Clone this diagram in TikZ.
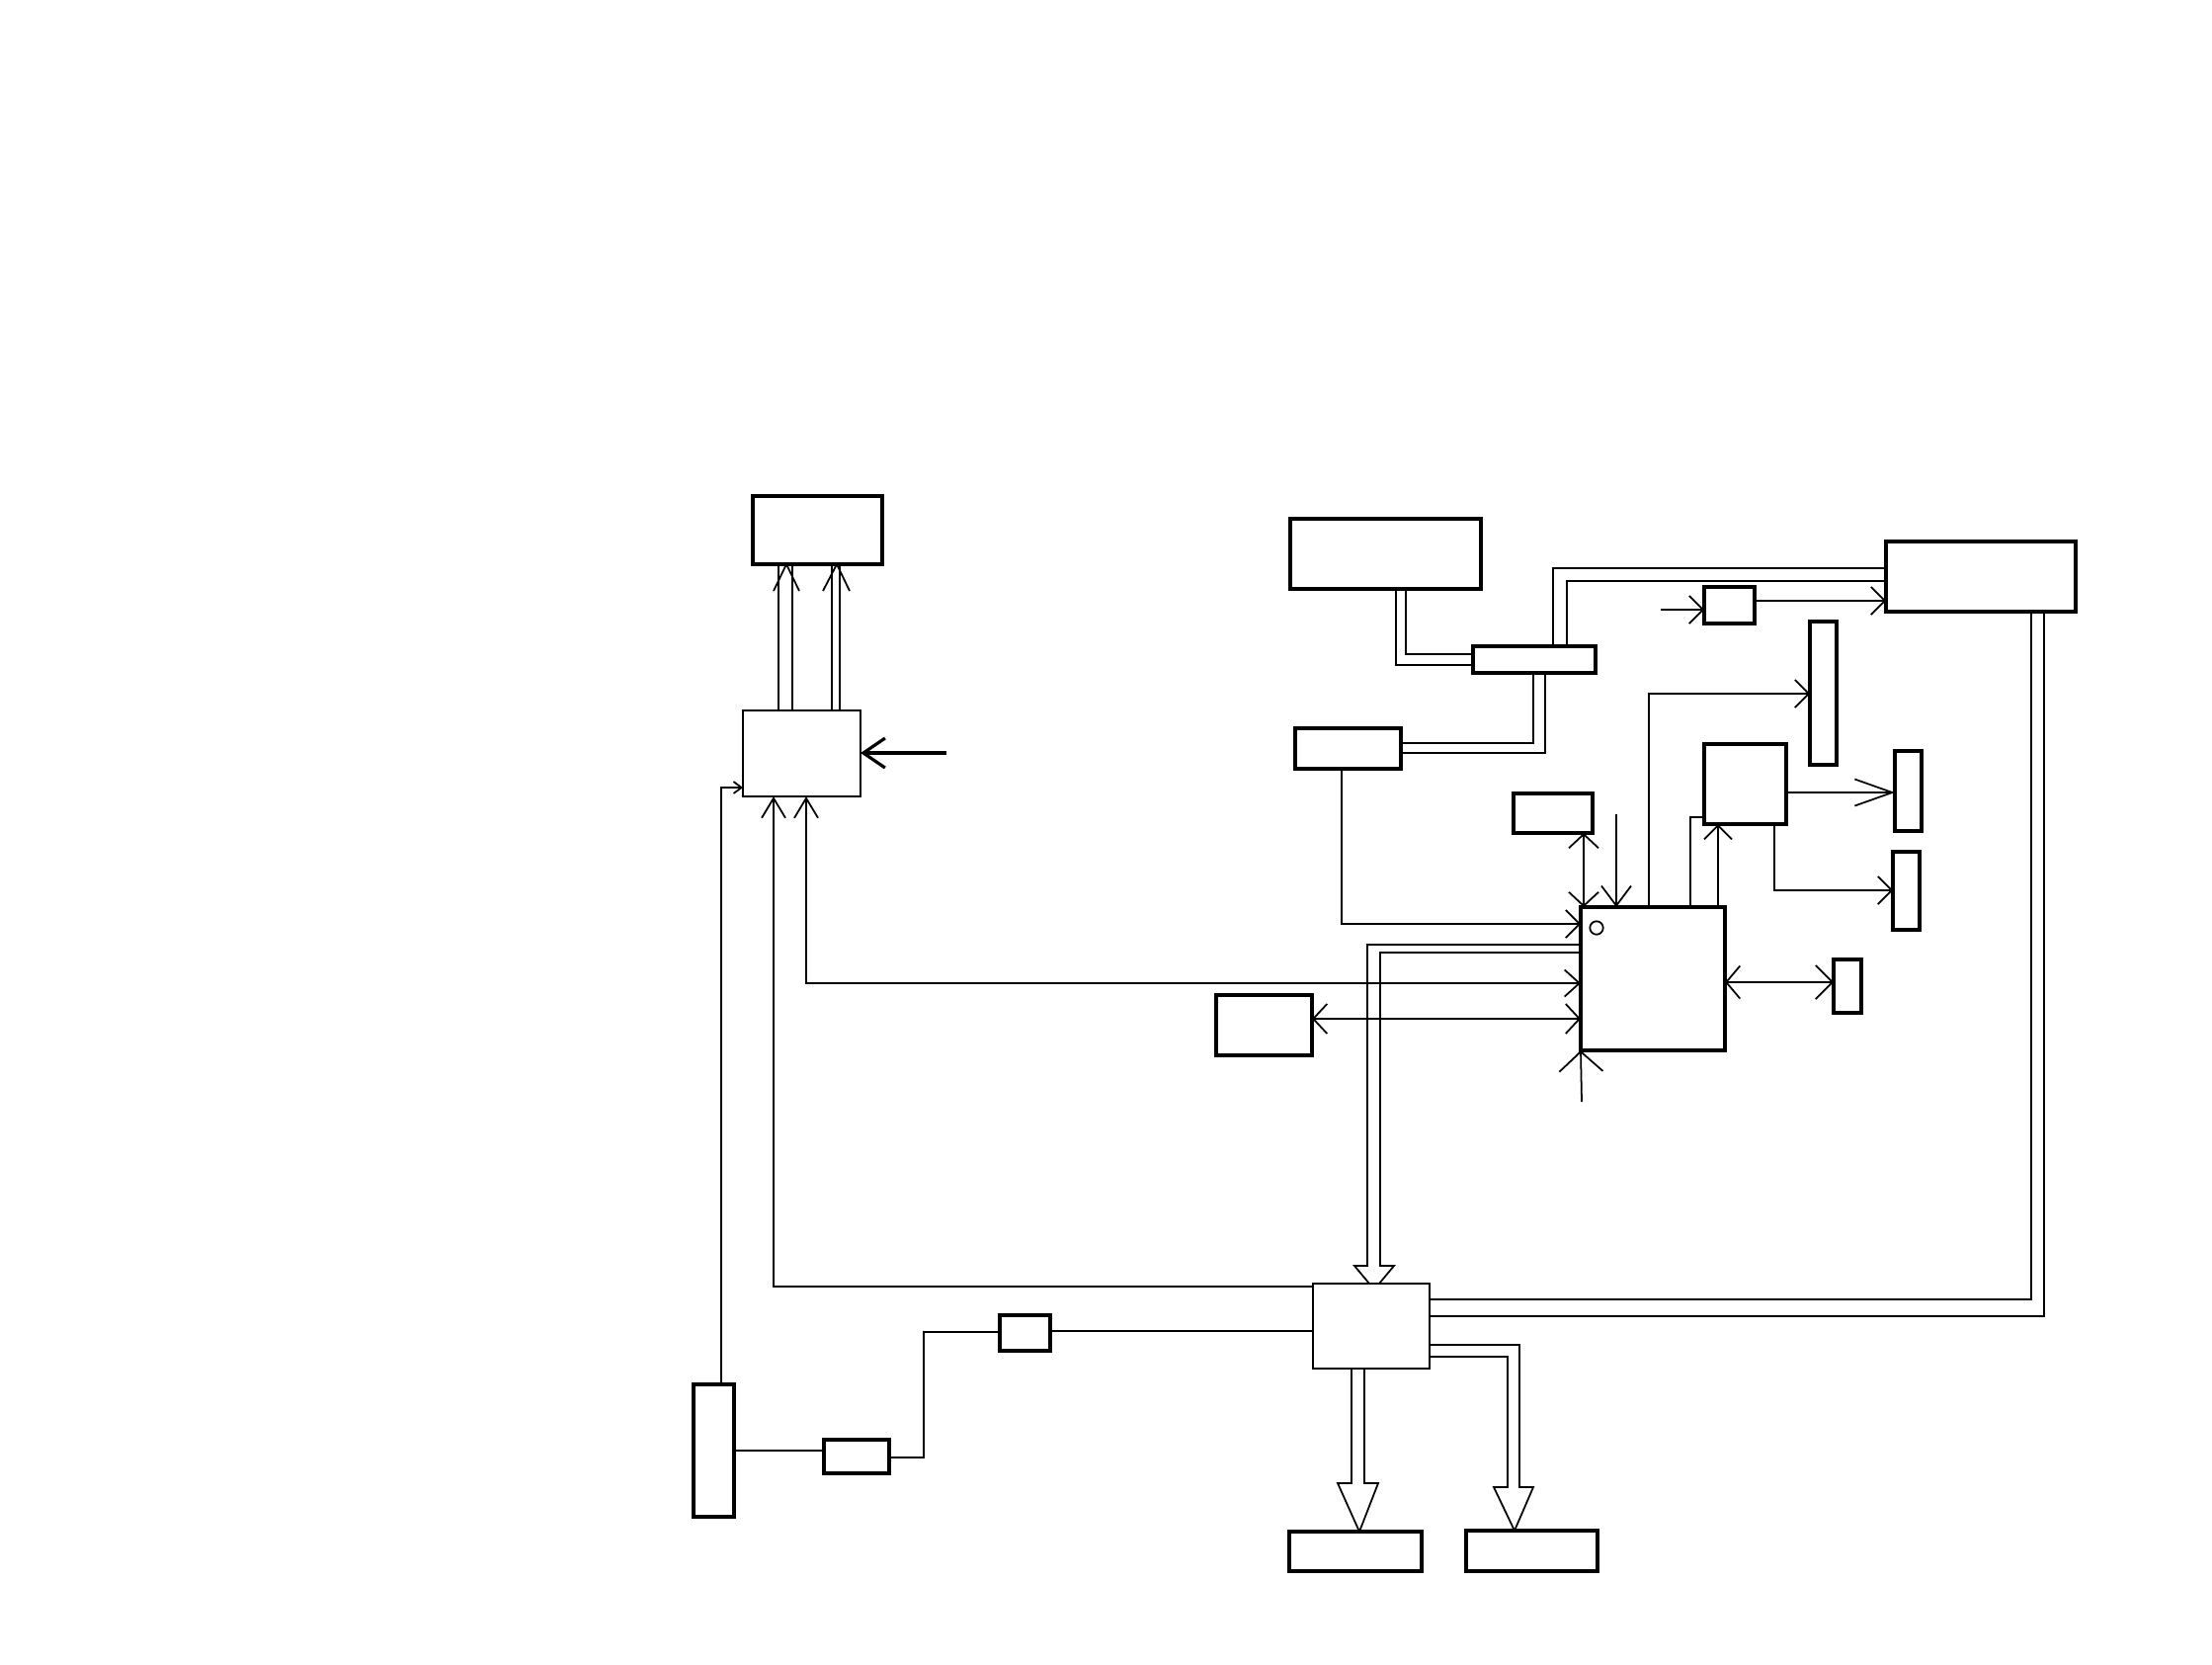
\documentclass[tikz,border=0pt]{standalone}
\usetikzlibrary{arrows.meta}
\tikzset{
  blk/.style={draw, line width=1.2pt, inner sep=0pt, outer sep=0pt, anchor=north west},
  hubbox/.style={draw, line width=0.55pt, inner sep=0pt, outer sep=0pt, anchor=north west},
  wire/.style={line width=0.5pt},
  barb/.style={-{Straight Barb[length=1.4mm,width=2.8mm]}},
  dbarb/.style={{Straight Barb[length=1.4mm,width=3mm]}-{Straight Barb[length=1.4mm,width=3mm]}},
}
\begin{document}
\begin{tikzpicture}[x=0.01cm, y=-0.01cm]
  \useasboundingbox (0,0) rectangle (2239,1684);
  % boxes
  \node[blk, minimum width=13.1mm, minimum height=6.9mm] (disp) at (762,502) {};
  \node[hubbox, minimum width=11.9mm, minimum height=8.7mm] (sel) at (752,719) {};
  \node[blk, minimum width=19.3mm, minimum height=7.1mm] (host) at (1306,525) {};
  \node[blk, minimum width=12.4mm, minimum height=2.7mm] (split) at (1491,654) {};
  \node[blk, minimum width=10.7mm, minimum height=4.1mm] (cfg) at (1311,737) {};
  \node[blk, minimum width=19.2mm, minimum height=7.1mm] (panel) at (1909,548) {};
  \node[blk, minimum width=5.1mm, minimum height=3.7mm] (buf) at (1725,594) {};
  \node[blk, minimum width=2.7mm, minimum height=14.5mm] (strip) at (1832,629) {};
  \node[blk, minimum width=8.3mm, minimum height=8.1mm] (reg) at (1725,753) {};
  \node[blk, minimum width=2.7mm, minimum height=8.1mm] (outa) at (1918,760) {};
  \node[blk, minimum width=2.7mm, minimum height=7.9mm] (outb) at (1916,862) {};
  \node[blk, minimum width=8mm, minimum height=4mm] (key) at (1532,803) {};
  \node[blk, minimum width=14.6mm, minimum height=14.5mm] (mcu) at (1600,918) {};
  \node[blk, minimum width=2.8mm, minimum height=5.4mm] (led) at (1856,971) {};
  \node[blk, minimum width=9.7mm, minimum height=6.1mm] (mem) at (1231,1007) {};
  \node[hubbox, minimum width=11.8mm, minimum height=8.6mm] (hub) at (1329,1299) {};
  \node[blk, minimum width=5.1mm, minimum height=3.6mm] (fuse) at (1012,1331) {};
  \node[blk, minimum width=6.6mm, minimum height=3.4mm] (diode) at (834,1457) {};
  \node[blk, minimum width=4.1mm, minimum height=13.4mm] (conn) at (702,1401) {};
  \node[blk, minimum width=13.4mm, minimum height=4mm] (loada) at (1305,1550) {};
  \node[blk, minimum width=13.3mm, minimum height=4.1mm] (loadb) at (1484,1549) {};
  \draw[line width=0.5pt] (1616,939) circle[radius=0.67mm];
  % free ends
  \coordinate (feed) at (958,762);
  \coordinate (bufin) at (1681,617);
  \coordinate (irq) at (1636,824);
  \coordinate (rst) at (1601,1115);
  % sel to disp
  \draw[wire] (sel.north -| 788,0) -- (disp.south -| 788,0);
  \draw[wire] (sel.north -| 802,0) -- (disp.south -| 802,0);
  \draw[wire] (783,598) -- (disp.south -| 796,0) -- (809,598);
  \draw[wire] (sel.north -| 842,0) -- (disp.south -| 842,0);
  \draw[wire] (sel.north -| 850,0) -- (disp.south -| 850,0);
  \draw[wire] (833,598) -- (disp.south -| 847,0) -- (860,598);
  % into sel
  \draw[line width=0.9pt, -{Straight Barb[length=2.2mm,width=3mm]}] (feed) -- (sel.east |- feed);
  \draw[wire, -{Straight Barb[length=0.8mm,width=1.2mm]}] (conn.north -| 730,0) |- (sel.west |- 0,797);
  \draw[wire, {Straight Barb[length=2mm,width=2.4mm]}-] (sel.south -| 783,0) |- (hub.west |- 0,1302);
  \draw[wire, {Straight Barb[length=2mm,width=2.4mm]}-{Straight Barb[length=1.5mm,width=2.7mm]}] (sel.south -| 816,0) |- (mcu.west |- 0,995);
  % host, split, cfg, panel
  \draw[wire] (host.south -| 1423,0) |- (split.west |- 0,662);
  \draw[wire] (host.south -| 1413,0) |- (split.west |- 0,673);
  \draw[wire] (split.south -| 1552,0) |- (cfg.east |- 0,752);
  \draw[wire] (split.south -| 1564,0) |- (cfg.east |- 0,762);
  \draw[wire] (split.north -| 1572,0) |- (panel.west |- 0,575);
  \draw[wire] (split.north -| 1586,0) |- (panel.west |- 0,588);
  \draw[wire, barb] (bufin) -- (buf.west |- bufin);
  \draw[wire, barb] (buf.east |- 0,608) -- (panel.west |- 0,608);
  % into mcu left
  \draw[wire, barb] (cfg.south -| 1358,0) |- (mcu.west |- 0,935);
  \draw[wire, dbarb] (mem.east |- 0,1031) -- (mcu.west |- 0,1031);
  \draw[wire] (mcu.west |- 0,956) -- (1384,956) -- (1384,1281) -- (1371,1281) -- (hub.north -| 1386,0);
  \draw[wire] (mcu.west |- 0,964) -- (1397,964) -- (1397,1281) -- (1411,1281) -- (hub.north -| 1396,0);
  % mcu top and right
  \draw[wire, dbarb] (key.south -| 1603,0) -- (mcu.north -| 1603,0);
  \draw[wire, -{Straight Barb[length=2mm,width=3mm]}] (irq) -- (mcu.north -| irq);
  \draw[wire, barb] (mcu.north -| 1669,0) |- (strip.west |- 0,702);
  \draw[wire] (mcu.north -| 1711,0) |- (reg.west |- 0,827);
  \draw[wire, barb] (mcu.north -| 1739,0) -- (reg.south -| 1739,0);
  \draw[wire, -{Straight Barb[length=3.8mm,width=2.7mm]}] (reg.east |- 0,802) -- (outa.west |- 0,802);
  \draw[wire, barb] (reg.south -| 1796,0) |- (outb.west |- 0,901);
  \draw[wire, {Straight Barb[length=1.4mm,width=3.3mm]}-{Straight Barb[length=1.7mm,width=3.4mm]}] (mcu.east |- 0,994) -- (led.west |- 0,994);
  \draw[wire, -{Straight Barb[length=2mm,width=4.4mm]}] (rst) -- (mcu.south west);
  % hub
  \draw[wire] (hub.east |- 0,1315) -| (panel.south -| 2056,0);
  \draw[wire] (hub.east |- 0,1332) -| (panel.south -| 2069,0);
  \draw[wire] (hub.south -| 1368,0) -- (1368,1501) -- (1354,1501) -- (loada.north -| 1376,0) -- (1395,1501) -- (1381,1501) -- (hub.south -| 1381,0);
  \draw[wire] (hub.east |- 0,1361) -- (1538,1361) -- (1538,1505) -- (1552,1505) -- (loadb.north -| 1533,0) -- (1512,1505) -- (1526,1505) -- (1526,1373) -- (hub.east |- 0,1373);
  \draw[wire] (fuse.east |- 0,1347) -- (hub.west |- 0,1347);
  \draw[wire] (fuse.west |- 0,1348) -- (935,1348) -- (935,1475) -- (diode.east |- 0,1475);
  \draw[wire] (diode.west |- 0,1468) -- (conn.east |- 0,1468);
\end{tikzpicture}
\end{document}
